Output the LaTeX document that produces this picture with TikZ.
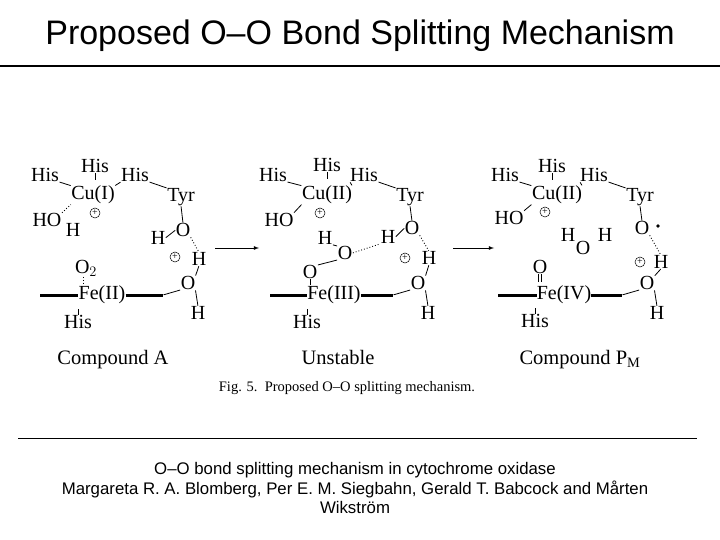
\documentclass[tikz,border=0pt]{standalone}
\usepackage{fontspec}
\setmainfont{Liberation Serif}
\newfontfamily\sansf{Liberation Sans}
\begin{document}
\begin{tikzpicture}[x=1pt,y=-1pt,
  ch/.style={inner sep=0pt,font=\fontsize{20}{20}\selectfont},
  lab/.style={inner sep=0pt,anchor=base,font=\fontsize{20.5}{20.5}\selectfont},
  bd/.style={line width=0.8pt,shorten >=0.5pt,shorten <=0.5pt},
  hb/.style={line width=0.9pt,dotted,shorten >=0.5pt,shorten <=0.5pt},
  heavy/.style={line width=3pt},
  pl/.style={circle,draw,line width=0.5pt,inner sep=0pt,minimum size=10pt,font=\fontsize{10}{10}\selectfont},
  arr/.style={line width=0.8pt,-latex}]
\useasboundingbox (0,0) rectangle (720,540);
\node[font=\sansf\fontsize{34}{34}\selectfont] (title) at (360,36) {Proposed O–O Bond Splitting Mechanism};
\draw[line width=2.5pt] (0,66) coordinate (t1) -- (720,66) coordinate (t2);
% ---------- panel A
\node[ch] (a-hisL) at (45,175) {His};
\node[ch] (a-hisT) at (95,166) {His};
\node[ch] (a-cu) at (93,195) {Cu(I)};
\node[ch] (a-hisR) at (135,175) {His};
\node[ch] (a-tyr) at (181,197) {Tyr};
\node[ch] (a-ho) at (47,220) {HO};
\node[ch] (a-hh) at (73,230) {H};
\node[pl] (a-p1) at (95,213) {+};
\node[ch] (a-h1) at (158,238) {H};
\node[ch] (a-ot) at (183,230) {O};
\node[pl] (a-p2) at (175,257) {+};
\node[ch] (a-h2) at (199,259) {H};
\node[ch] (a-o2) at (86,268) {O$_2$};
\node[ch] (a-fe) at (102,295) {Fe(II)};
\node[ch] (a-ow) at (188,283) {O};
\node[ch] (a-h3) at (198,313) {H};
\node[ch] (a-his) at (78,322) {His};
\node[lab] (a-lab) at (113,364) {Compound A};
\coordinate (a-l) at (40,295); \coordinate (a-r) at (163,295);
\draw[bd] (a-hisL.south east) -- (a-cu.north west);
\draw[bd] (a-hisT.south) -- ++(0,8);
\draw[bd] (a-cu.north east) -- (a-hisR.south west);
\draw[bd] (a-hisR.south east) -- (a-tyr.north west);
\draw[bd] (a-tyr.south) -- (a-ot.north);
\draw[hb] (a-ho.north east) -- (a-cu.south west);
\draw[bd] (a-h1.east) -- (a-ot.west);
\draw[hb] (a-ot.south east) -- (a-h2.north);
\draw[bd] (a-h2.south) -- (a-ow.north east);
\draw[bd] (a-ow.south east) -- (a-h3.north);
\draw[hb] ([xshift=-3pt]a-o2.south) -- ++(0,8);
\draw[bd] (a-his.north) -- ++(0,-7);
\draw[heavy] (a-l) -- (a-fe.west);
\draw[heavy] (a-fe.east) -- (a-r);
\draw[bd] (a-r) -- (a-ow.south west);
% arrow 1
\coordinate (ar1) at (215,248); \coordinate (ar2) at (259,248);
\draw[arr] (ar1) -- (ar2);
% ---------- panel B
\node[ch] (b-hisL) at (273,175) {His};
\node[ch] (b-hisT) at (327,165) {His};
\node[ch] (b-cu) at (327,195) {Cu(II)};
\node[ch] (b-hisR) at (364,175) {His};
\node[ch] (b-tyr) at (410,197) {Tyr};
\node[ch] (b-ho) at (279,220) {HO};
\node[pl] (b-p1) at (320,213) {+};
\node[ch] (b-hu) at (325,238) {H};
\node[ch] (b-ou) at (345,253) {O};
\node[ch] (b-ol) at (310,272) {O};
\node[ch] (b-h1) at (388,237) {H};
\node[ch] (b-ot) at (412,228) {O};
\node[pl] (b-p2) at (405,258) {+};
\node[ch] (b-h2) at (429,258) {H};
\node[ch] (b-fe) at (334,295) {Fe(III)};
\node[ch] (b-ow) at (418,283) {O};
\node[ch] (b-h3) at (428,313) {H};
\node[ch] (b-his) at (307,322) {His};
\node[lab] (b-lab) at (338,364) {Unstable};
\coordinate (b-l) at (270,295); \coordinate (b-r) at (393,295);
\draw[bd] (b-hisL.south east) -- (b-cu.north west);
\draw[bd] (b-hisT.south) -- ++(0,8);
\draw[bd] (b-cu.north east) -- (b-hisR.south west);
\draw[bd] (b-hisR.south east) -- (b-tyr.north west);
\draw[bd] (b-tyr.south) -- (b-ot.north);
\draw[bd] (b-ho.north east) -- (b-cu.south west);
\draw[bd] (b-hu.south east) -- (b-ou.north west);
\draw[bd] (b-ou.south west) -- (b-ol.north east);
\draw[hb] (b-ou.east) -- (b-h1.south west);
\draw[bd] (b-h1.east) -- (b-ot.west);
\draw[hb] (b-ot.south east) -- (b-h2.north);
\draw[bd] (b-h2.south) -- (b-ow.north east);
\draw[bd] (b-ow.south east) -- (b-h3.north);
\draw[bd] (b-ol.south) -- ++(0,7);
\draw[bd] (b-his.north) -- ++(0,-7);
\draw[heavy] (b-l) -- (b-fe.west);
\draw[heavy] (b-fe.east) -- (b-r);
\draw[bd] (b-r) -- (b-ow.south west);
% arrow 2
\coordinate (ar3) at (453,248); \coordinate (ar4) at (494,248);
\draw[arr] (ar3) -- (ar4);
% ---------- panel C
\node[ch] (c-hisL) at (505,175) {His};
\node[ch] (c-hisT) at (552,166) {His};
\node[ch] (c-cu) at (557,195) {Cu(II)};
\node[ch] (c-hisR) at (594,175) {His};
\node[ch] (c-tyr) at (640,197) {Tyr};
\node[ch] (c-ho) at (509,218) {HO};
\node[pl] (c-p1) at (545,212) {+};
\node[ch] (c-wh1) at (568,235) {H};
\node[ch] (c-wo) at (583,248) {O};
\node[ch] (c-wh2) at (605,235) {H};
\node[ch] (c-ot) at (642,228) {O};
\node[circle,fill,inner sep=1.3pt] (c-dot) at (658,226) {};
\node[ch] (c-oo) at (540,267) {O};
\node[ch] (c-fe) at (564,295) {Fe(IV)};
\node[pl] (c-p2) at (640,262) {+};
\node[ch] (c-h2) at (661,262) {H};
\node[ch] (c-ow) at (647,283) {O};
\node[ch] (c-h3) at (657,313) {H};
\node[ch] (c-his) at (535,321) {His};
\node[lab] (c-lab) at (580,364) {Compound P$_{\mathrm M}$};
\coordinate (c-l) at (498,295); \coordinate (c-r) at (622,295);
\draw[bd] (c-hisL.south east) -- (c-cu.north west);
\draw[bd] (c-hisT.south) -- ++(0,8);
\draw[bd] (c-cu.north east) -- (c-hisR.south west);
\draw[bd] (c-hisR.south east) -- (c-tyr.north west);
\draw[bd] (c-tyr.south) -- (c-ot.north);
\draw[bd] (c-ho.north east) -- (c-cu.south west);
\draw[hb] (c-ot.south east) -- (c-h2.north);
\draw[bd] (c-h2.south) -- (c-ow.north east);
\draw[bd] (c-ow.south east) -- (c-h3.north);
\draw[bd] ([xshift=-1.5pt]c-oo.south) -- ++(0,9);
\draw[bd] ([xshift=1.5pt]c-oo.south) -- ++(0,9);
\draw[bd] (c-his.north) -- ++(0,-7);
\draw[heavy] (c-l) -- (c-fe.west);
\draw[heavy] (c-fe.east) -- (c-r);
\draw[bd] (c-r) -- (c-ow.south west);
% caption
\node[inner sep=0pt,font=\fontsize{14.5}{14.5}\selectfont] (cap) at (347,388) {Fig. 5.\ \ Proposed O–O splitting mechanism.};
\draw[line width=0.6pt] (18,438) coordinate (r1) -- (697,438) coordinate (r2);
\node[align=center,font=\sansf\fontsize{16.8}{19.5}\selectfont] (ref) at (355,488) {O–O bond splitting mechanism in cytochrome oxidase\\Margareta R. A. Blomberg, Per E. M. Siegbahn, Gerald T. Babcock and Mårten\\Wikström};
\end{tikzpicture}
\end{document}
